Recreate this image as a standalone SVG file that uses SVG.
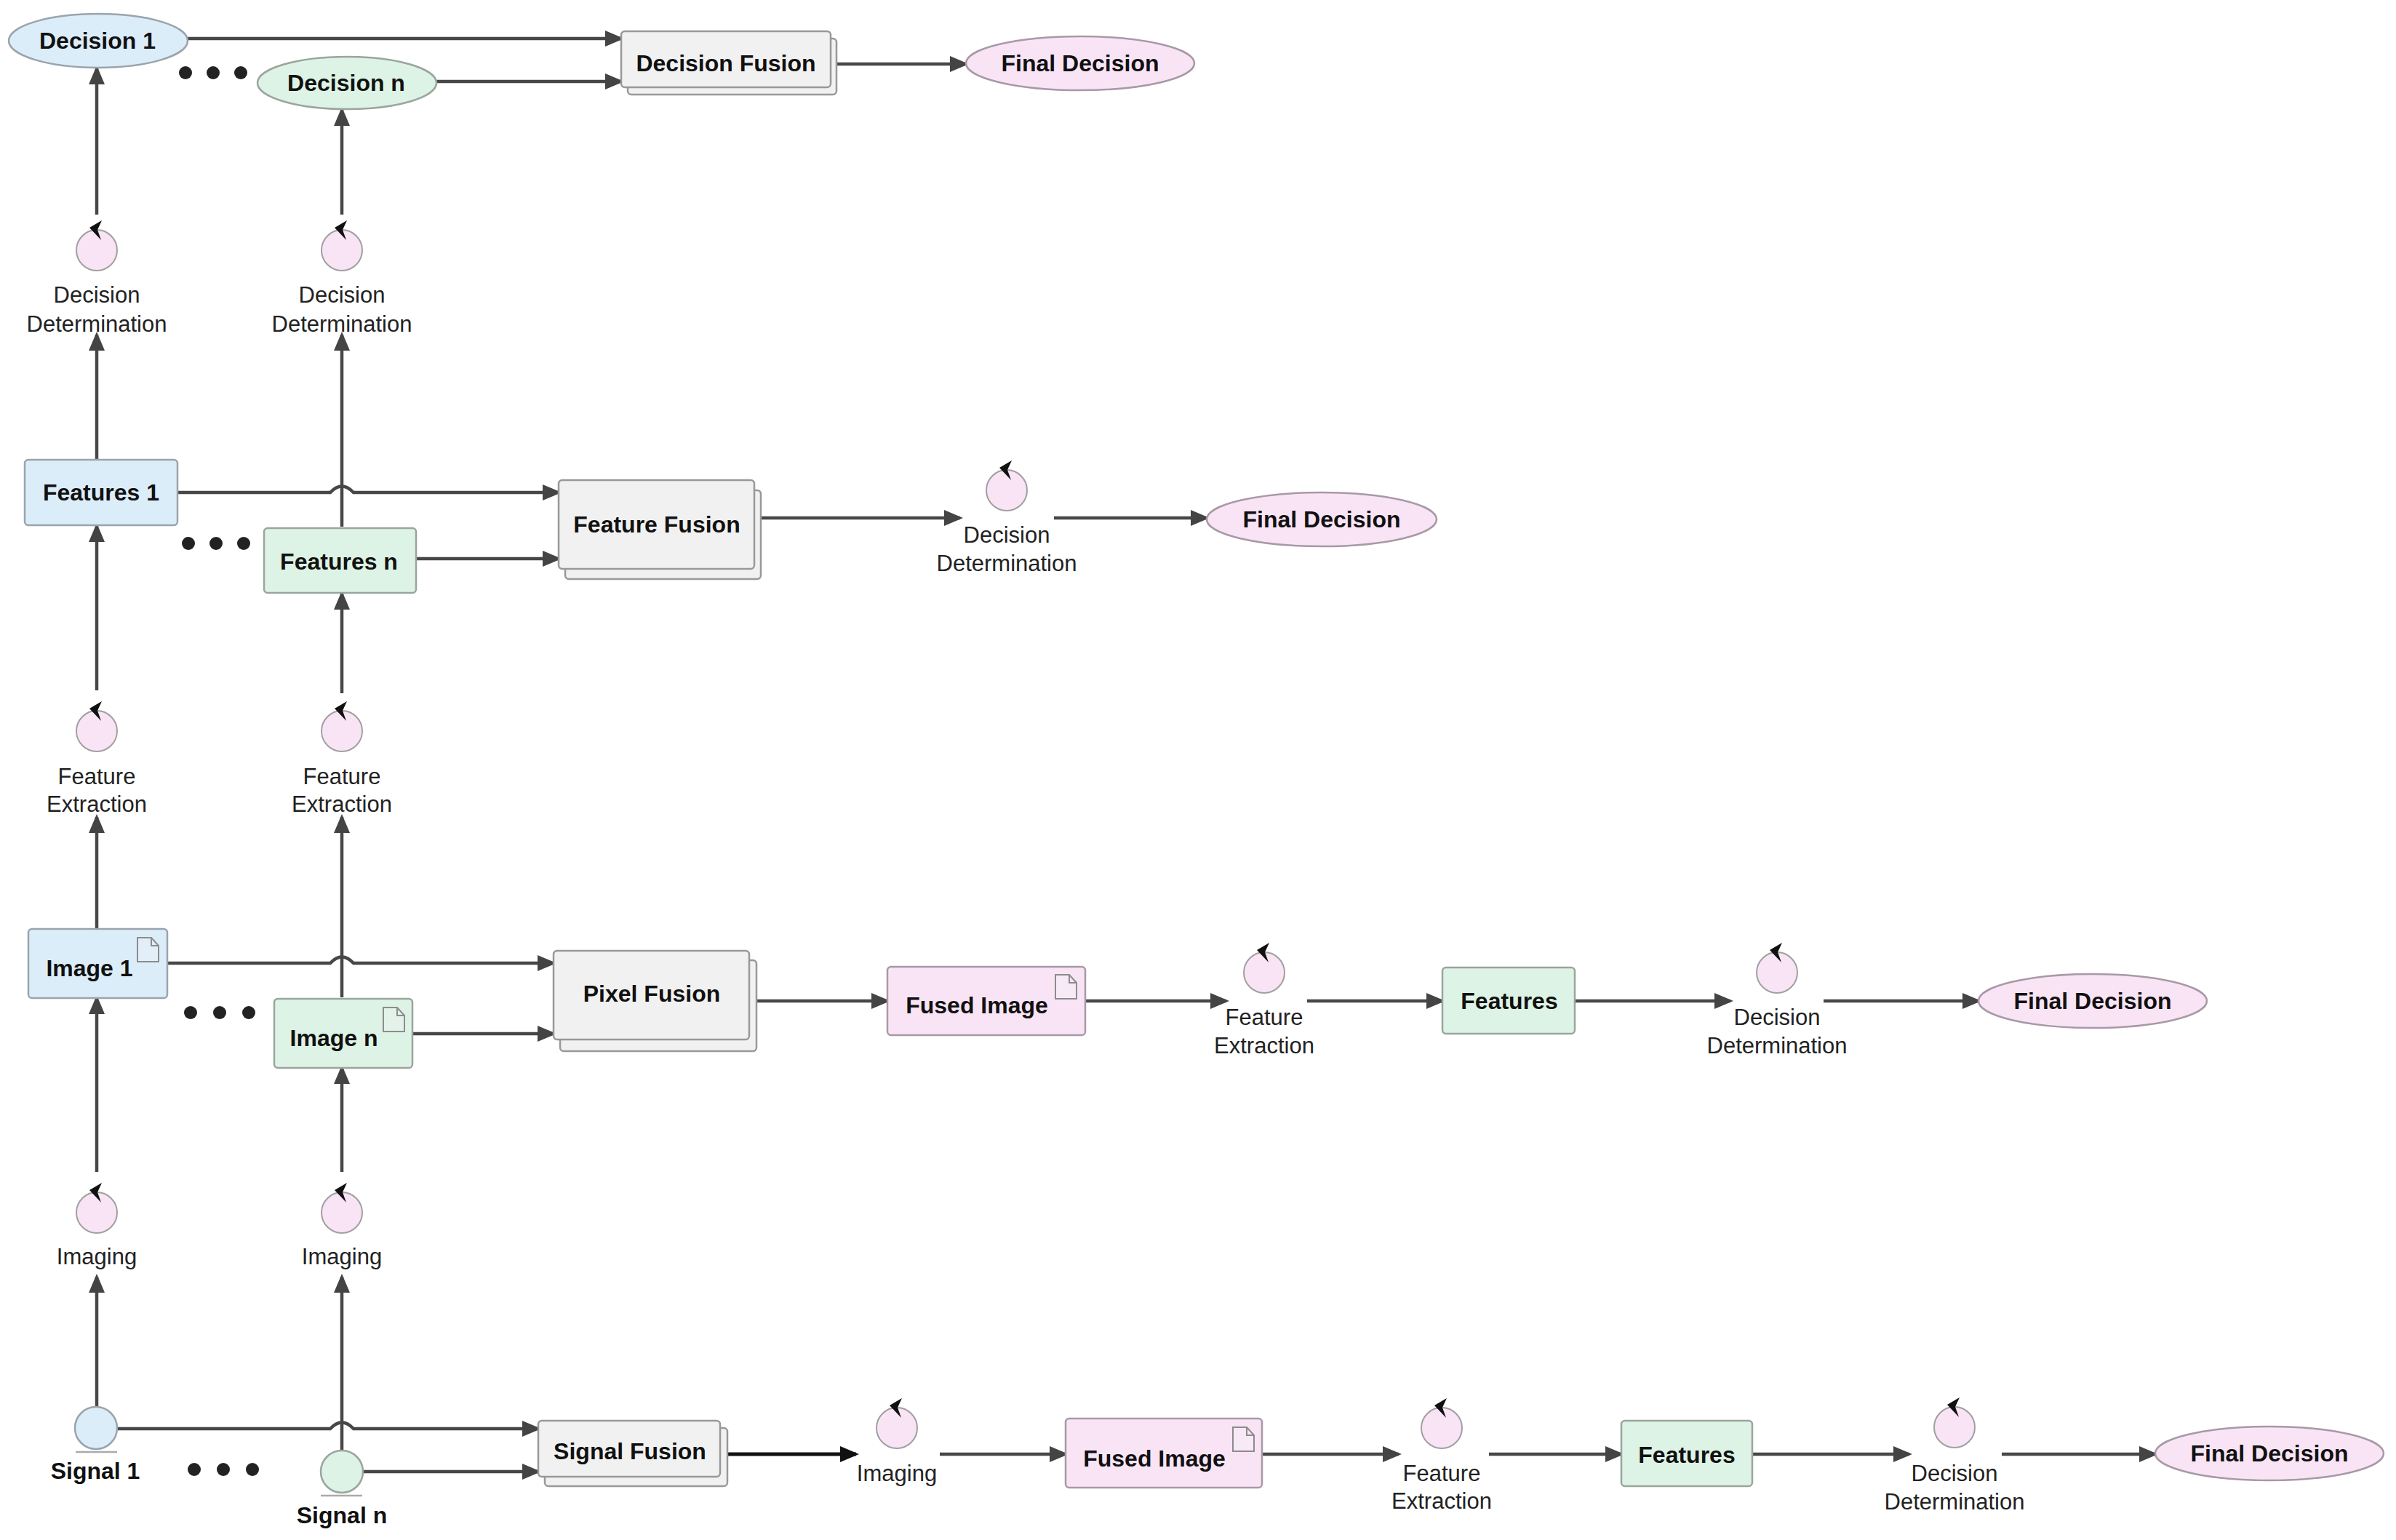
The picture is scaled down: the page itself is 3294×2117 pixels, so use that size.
<svg xmlns="http://www.w3.org/2000/svg" width="3294" height="2117" viewBox="0 0 3294 2117">
<style>
.t{font-family:"Liberation Sans",Arial,sans-serif;font-size:31px;fill:#222;text-anchor:middle}
.b{font-weight:bold;font-size:32px;fill:#111}
.c{stroke:#474747;stroke-width:4.5;fill:none}
.k{stroke:#111;stroke-width:5;fill:none}
.blue{fill:#dcedfa;stroke:#9aa4ac;stroke-width:2.5}
.mint{fill:#ddf3e5;stroke:#9aa59e;stroke-width:2.5}
.pink{fill:#f9e4f6;stroke:#a899a6;stroke-width:2.5}
.gray{fill:#f1f1f1;stroke:#999;stroke-width:2.5}
.proc{fill:#f9e4f6;stroke:#a0a0a0;stroke-width:2}
.doc{fill:#f6f6f6;fill-opacity:0.3;stroke:#8c8c8c;stroke-width:2}
.ul{stroke:#aaa;stroke-width:2.5}
.dot{fill:#222}
</style>
<defs>
<marker id="arr" markerUnits="userSpaceOnUse" markerWidth="26" markerHeight="24" refX="22" refY="12" orient="auto"><path d="M0,1 L26,12 L0,23 z" fill="#444"/></marker>
<marker id="arrK" markerUnits="userSpaceOnUse" markerWidth="26" markerHeight="24" refX="22" refY="12" orient="auto"><path d="M0,1 L26,12 L0,23 z" fill="#111"/></marker>
<path id="chev" d="M7,-41 L-10,-31 L6,-14 L1,-28 Z" fill="#111"/>
<path id="doc" d="M0,0 H19 L29,11 V33 H0 Z M19,0 V11 H29"/>
</defs>
<rect width="3294" height="2117" fill="#fff"/>

<g id="connectors">
<path class="c" marker-end="url(#arr)" d="M258,53 H854"/>
<path class="c" marker-end="url(#arr)" d="M600,112 H854"/>
<path class="c" marker-end="url(#arr)" d="M1150,88 H1328"/>
<path class="c" marker-end="url(#arr)" d="M133,295 V94"/>
<path class="c" marker-end="url(#arr)" d="M470,295 V151"/>
<path class="c" marker-end="url(#arr)" d="M133,632 V460"/>
<path class="c" marker-end="url(#arr)" d="M470,724 V460"/>
<path class="c" marker-end="url(#arr)" d="M244,677 H454 Q470,660 486,677 H768"/>
<path class="c" marker-end="url(#arr)" d="M572,768 H768"/>
<path class="c" marker-end="url(#arr)" d="M1046,712 H1320"/>
<path class="c" marker-end="url(#arr)" d="M1449,712 H1659"/>
<path class="c" marker-end="url(#arr)" d="M133,949 V723"/>
<path class="c" marker-end="url(#arr)" d="M470,953 V816"/>
<path class="c" marker-end="url(#arr)" d="M133,1277 V1123"/>
<path class="c" marker-end="url(#arr)" d="M470,1371 V1123"/>
<path class="c" marker-end="url(#arr)" d="M230,1324 H454 Q470,1307 486,1324 H761"/>
<path class="c" marker-end="url(#arr)" d="M567,1421 H761"/>
<path class="c" marker-end="url(#arr)" d="M1040,1376 H1220"/>
<path class="c" marker-end="url(#arr)" d="M1492,1376 H1686"/>
<path class="c" marker-end="url(#arr)" d="M1797,1376 H1983"/>
<path class="c" marker-end="url(#arr)" d="M2165,1376 H2379"/>
<path class="c" marker-end="url(#arr)" d="M2507,1376 H2720"/>
<path class="c" marker-end="url(#arr)" d="M133,1611 V1372"/>
<path class="c" marker-end="url(#arr)" d="M470,1611 V1468"/>
<path class="c" marker-end="url(#arr)" d="M133,1933 V1755"/>
<path class="c" marker-end="url(#arr)" d="M470,1993 V1755"/>
<path class="c" marker-end="url(#arr)" d="M161,1964 H454 Q470,1947 486,1964 H740"/>
<path class="c" marker-end="url(#arr)" d="M499,2023 H740"/>
<path class="k" marker-end="url(#arrK)" d="M1000,1999 H1177"/>
<path class="c" marker-end="url(#arr)" d="M1292,1999 H1465"/>
<path class="c" marker-end="url(#arr)" d="M1735,1999 H1923"/>
<path class="c" marker-end="url(#arr)" d="M2047,1999 H2229"/>
<path class="c" marker-end="url(#arr)" d="M2409,1999 H2625"/>
<path class="c" marker-end="url(#arr)" d="M2752,1999 H2963"/>
</g>

<g id="dots">
<circle class="dot" cx="255" cy="100" r="9"/><circle class="dot" cx="293" cy="100" r="9"/><circle class="dot" cx="331" cy="100" r="9"/>
<circle class="dot" cx="259" cy="747" r="9"/><circle class="dot" cx="297" cy="747" r="9"/><circle class="dot" cx="335" cy="747" r="9"/>
<circle class="dot" cx="262" cy="1392" r="9"/><circle class="dot" cx="302" cy="1392" r="9"/><circle class="dot" cx="342" cy="1392" r="9"/>
<circle class="dot" cx="267" cy="2020" r="9"/><circle class="dot" cx="307" cy="2020" r="9"/><circle class="dot" cx="347" cy="2020" r="9"/>
</g>

<g id="decision1"><ellipse class="blue" cx="135" cy="56" rx="123" ry="37"/><text class="t b" x="134" y="67">Decision 1</text></g>
<g id="decisionN"><ellipse class="mint" cx="477" cy="114" rx="123" ry="36"/><text class="t b" x="476" y="125">Decision n</text></g>
<g id="decisionFusion"><rect class="gray" x="863" y="53" width="287" height="77" rx="5"/><rect class="gray" x="854" y="43" width="288" height="77" rx="5"/><text class="t b" x="998" y="98">Decision Fusion</text></g>
<g id="finalDecision1"><ellipse class="pink" cx="1485" cy="87" rx="157" ry="37"/><text class="t b" x="1485" y="98">Final Decision</text></g>

<g id="dd1"><circle class="proc" cx="133" cy="344" r="28"/><use href="#chev" x="133" y="344"/><text class="t" x="133" y="416">Decision</text><text class="t" x="133" y="456">Determination</text></g>
<g id="ddN"><circle class="proc" cx="470" cy="344" r="28"/><use href="#chev" x="470" y="344"/><text class="t" x="470" y="416">Decision</text><text class="t" x="470" y="456">Determination</text></g>

<g id="features1"><rect class="blue" x="34" y="632" width="210" height="90" rx="5"/><text class="t b" x="139" y="688">Features 1</text></g>
<g id="featuresN"><rect class="mint" x="363" y="726" width="209" height="89" rx="5"/><text class="t b" x="466" y="783">Features n</text></g>
<g id="featureFusion"><rect class="gray" x="777" y="674" width="269" height="122" rx="5"/><rect class="gray" x="768" y="660" width="269" height="122" rx="5"/><text class="t b" x="903" y="732">Feature Fusion</text></g>
<g id="ddMid"><circle class="proc" cx="1384" cy="674" r="28"/><use href="#chev" x="1384" y="674"/><text class="t" x="1384" y="746">Decision</text><text class="t" x="1384" y="785">Determination</text></g>
<g id="finalDecision2"><ellipse class="pink" cx="1817" cy="714" rx="158" ry="37"/><text class="t b" x="1817" y="725">Final Decision</text></g>

<g id="fe1"><circle class="proc" cx="133" cy="1005" r="28"/><use href="#chev" x="133" y="1005"/><text class="t" x="133" y="1078">Feature</text><text class="t" x="133" y="1116">Extraction</text></g>
<g id="feN"><circle class="proc" cx="470" cy="1005" r="28"/><use href="#chev" x="470" y="1005"/><text class="t" x="470" y="1078">Feature</text><text class="t" x="470" y="1116">Extraction</text></g>

<g id="image1"><rect class="blue" x="39" y="1277" width="191" height="95" rx="5"/><use href="#doc" class="doc" x="189" y="1289"/><text class="t b" x="123" y="1342">Image 1</text></g>
<g id="imageN"><rect class="mint" x="377" y="1373" width="190" height="95" rx="5"/><use href="#doc" class="doc" x="527" y="1385"/><text class="t b" x="459" y="1438">Image n</text></g>
<g id="pixelFusion"><rect class="gray" x="770" y="1320" width="270" height="125" rx="5"/><rect class="gray" x="761" y="1307" width="269" height="122" rx="5"/><text class="t b" x="896" y="1377">Pixel Fusion</text></g>
<g id="fusedImage1"><rect class="pink" x="1220" y="1329" width="272" height="94" rx="5"/><use href="#doc" class="doc" x="1451" y="1340"/><text class="t b" x="1343" y="1393">Fused Image</text></g>
<g id="feMid"><circle class="proc" cx="1738" cy="1337" r="28"/><use href="#chev" x="1738" y="1337"/><text class="t" x="1738" y="1409">Feature</text><text class="t" x="1738" y="1448">Extraction</text></g>
<g id="featuresMid"><rect class="mint" x="1983" y="1330" width="182" height="91" rx="5"/><text class="t b" x="2075" y="1387">Features</text></g>
<g id="ddImg"><circle class="proc" cx="2443" cy="1337" r="28"/><use href="#chev" x="2443" y="1337"/><text class="t" x="2443" y="1409">Decision</text><text class="t" x="2443" y="1448">Determination</text></g>
<g id="finalDecision3"><ellipse class="pink" cx="2877" cy="1376" rx="157" ry="37"/><text class="t b" x="2877" y="1387">Final Decision</text></g>

<g id="imaging1"><circle class="proc" cx="133" cy="1667" r="28"/><use href="#chev" x="133" y="1667"/><text class="t" x="133" y="1738">Imaging</text></g>
<g id="imagingN"><circle class="proc" cx="470" cy="1667" r="28"/><use href="#chev" x="470" y="1667"/><text class="t" x="470" y="1738">Imaging</text></g>

<g id="signal1"><circle class="blue" cx="132" cy="1963" r="29"/><line class="ul" x1="104" y1="1996" x2="161" y2="1996"/><text class="t b" x="131" y="2033">Signal 1</text></g>
<g id="signalN"><circle class="mint" cx="470" cy="2023" r="29"/><line class="ul" x1="441" y1="2056" x2="498" y2="2056"/><text class="t b" x="470" y="2094">Signal n</text></g>
<g id="signalFusion"><rect class="gray" x="749" y="1963" width="251" height="80" rx="5"/><rect class="gray" x="740" y="1953" width="250" height="77" rx="5"/><text class="t b" x="866" y="2006">Signal Fusion</text></g>
<g id="imagingBot"><circle class="proc" cx="1233" cy="1963" r="28"/><use href="#chev" x="1233" y="1963"/><text class="t" x="1233" y="2036">Imaging</text></g>
<g id="fusedImage2"><rect class="pink" x="1465" y="1950" width="270" height="95" rx="5"/><use href="#doc" class="doc" x="1695" y="1962"/><text class="t b" x="1587" y="2016">Fused Image</text></g>
<g id="feBot"><circle class="proc" cx="1982" cy="1963" r="28"/><use href="#chev" x="1982" y="1963"/><text class="t" x="1982" y="2036">Feature</text><text class="t" x="1982" y="2074">Extraction</text></g>
<g id="featuresBot"><rect class="mint" x="2229" y="1953" width="180" height="90" rx="5"/><text class="t b" x="2319" y="2011">Features</text></g>
<g id="ddBot"><circle class="proc" cx="2687" cy="1962" r="28"/><use href="#chev" x="2687" y="1962"/><text class="t" x="2687" y="2036">Decision</text><text class="t" x="2687" y="2075">Determination</text></g>
<g id="finalDecision4"><ellipse class="pink" cx="3120" cy="1998" rx="157" ry="37"/><text class="t b" x="3120" y="2009">Final Decision</text></g>
</svg>
